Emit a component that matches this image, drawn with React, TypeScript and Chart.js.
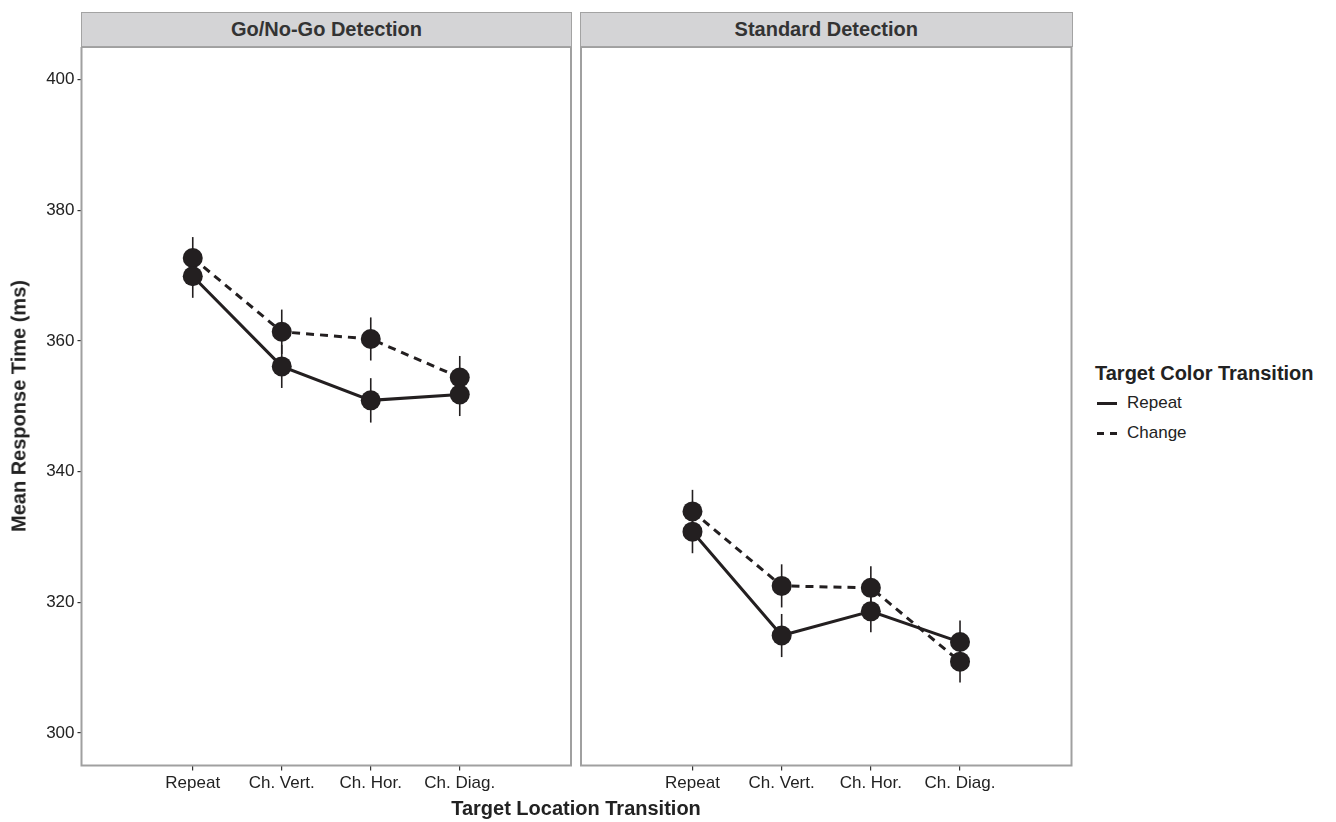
import React, { useEffect, useRef } from "react";
import { Chart, registerables } from "chart.js";

Chart.register(...registerables);

const FONT = '"Liberation Sans", Arial, Helvetica, sans-serif';
const INK = "#231f20";

const categories = ["Repeat", "Ch. Vert.", "Ch. Hor.", "Ch. Diag."];
const yTicks = [300, 320, 340, 360, 380, 400];

// Go/No-Go Detection panel
const goRepeat = [369.9, 356.1, 350.9, 351.8];
const goRepeatErr = [3.3, 3.3, 3.4, 3.3];
const goChange = [372.7, 361.4, 360.3, 354.4];
const goChangeErr = [3.2, 3.4, 3.3, 3.3];

// Standard Detection panel
const stdRepeat = [330.8, 314.9, 318.6, 313.9];
const stdRepeatErr = [3.3, 3.3, 3.2, 3.3];
const stdChange = [333.9, 322.5, 322.2, 310.9];
const stdChangeErr = [3.3, 3.3, 3.3, 3.2];

const errorBarPlugin = {
  id: "errorBars",
  beforeDatasetsDraw(chart: any) {
    const ctx = chart.ctx;
    const xs = chart.scales.x;
    const ys = chart.scales.y;
    ctx.save();
    ctx.strokeStyle = INK;
    ctx.lineWidth = 1.6;
    chart.data.datasets.forEach((ds: any) => {
      ds.data.forEach((p: any, i: number) => {
        const e = ds.errors[i];
        const px = xs.getPixelForValue(p.x);
        ctx.beginPath();
        ctx.moveTo(px, ys.getPixelForValue(p.y - e));
        ctx.lineTo(px, ys.getPixelForValue(p.y + e));
        ctx.stroke();
      });
    });
    ctx.restore();
  },
};

const borderPlugin = {
  id: "panelBorder",
  afterDatasetsDraw(chart: any) {
    const { left, top, right, bottom } = chart.chartArea;
    const ctx = chart.ctx;
    ctx.save();
    ctx.strokeStyle = "#a0a0a0";
    ctx.lineWidth = 2;
    ctx.strokeRect(left, top, right - left, bottom - top);
    ctx.restore();
  },
};

function makeDatasets(rep: number[], repErr: number[], chg: number[], chgErr: number[]) {
  const toPts = (arr: number[]) => arr.map((v, i) => ({ x: i + 1, y: v }));
  const base = {
    borderColor: INK,
    backgroundColor: INK,
    pointBackgroundColor: INK,
    pointBorderWidth: 0,
    pointRadius: 10,
    borderWidth: 3,
    tension: 0,
    clip: false as any,
  };
  return [
    { ...base, label: "Repeat", data: toPts(rep), errors: repErr },
    { ...base, label: "Change", data: toPts(chg), errors: chgErr, borderDash: [8, 6] },
  ];
}

const zeroPad = (s: any) => {
  s.paddingLeft = 0;
  s.paddingRight = 0;
  s.paddingTop = 0;
  s.paddingBottom = 0;
};

function Panel(props: {
  rep: number[];
  repErr: number[];
  chg: number[];
  chgErr: number[];
  showY: boolean;
  left: number;
  width: number;
}) {
  const ref = useRef<HTMLCanvasElement>(null);
  useEffect(() => {
    if (!ref.current) return;
    const chart = new Chart(ref.current, {
      type: "line",
      data: {
        datasets: makeDatasets(props.rep, props.repErr, props.chg, props.chgErr) as any,
      },
      options: {
        responsive: false,
        animation: false,
        devicePixelRatio: 1,
        layout: {
          autoPadding: false,
          padding: { left: props.showY ? 0 : 6, right: props.showY ? 2 : 3.5, top: 0, bottom: 0 },
        },
        plugins: { legend: { display: false }, tooltip: { enabled: false } },
        scales: {
          x: {
            type: "linear",
            min: -0.25,
            max: 5.25,
            afterBuildTicks: (s: any) => {
              s.ticks = categories.map((_, i) => ({ value: i + 1 }));
            },
            afterFit: (s: any) => {
              s.height = 56.5;
              zeroPad(s);
            },
            ticks: {
              callback: (v: any) => categories[Number(v) - 1] ?? "",
              font: { size: 17, family: FONT },
              color: "#222",
              padding: 3,
              maxRotation: 0,
              autoSkip: false,
            },
            grid: {
              display: true,
              drawOnChartArea: false,
              drawTicks: true,
              tickLength: 5,
              color: "#333",
              lineWidth: 1.2,
            },
            border: { display: false },
          },
          y: {
            type: "linear",
            display: props.showY,
            min: 295,
            max: 405,
            afterBuildTicks: (s: any) => {
              s.ticks = yTicks.map((v) => ({ value: v }));
            },
            afterFit: (s: any) => {
              s.width = props.showY ? 81.5 : 0;
              zeroPad(s);
            },
            ticks: {
              font: { size: 17, family: FONT },
              color: "#222",
              padding: 3,
            },
            grid: {
              display: true,
              drawOnChartArea: false,
              drawTicks: true,
              tickLength: 4,
              color: "#333",
              lineWidth: 1.2,
            },
            border: { display: false },
          },
        },
      } as any,
      plugins: [errorBarPlugin, borderPlugin],
    });
    return () => chart.destroy();
  }, []);
  return (
    <canvas
      ref={ref}
      width={props.width}
      height={775}
      style={{ position: "absolute", left: props.left, top: 47, width: props.width, height: 775 }}
    />
  );
}

const stripStyle = (left: number, width: number): React.CSSProperties => ({
  position: "absolute",
  left,
  top: 12,
  width,
  height: 35,
  boxSizing: "border-box",
  background: "#d4d4d6",
  border: "1.5px solid #a3a3a3",
  color: "#333",
  fontFamily: FONT,
  fontWeight: "bold",
  fontSize: 20,
  lineHeight: "32px",
  textAlign: "center",
});

export default function App() {
  return (
    <div
      style={{
        position: "absolute",
        left: 0,
        top: 0,
        width: 1336,
        height: 822,
        background: "#fff",
        fontFamily: FONT,
        overflow: "hidden",
      }}
    >
      <div style={stripStyle(81, 491)}>Go/No-Go Detection</div>
      <div style={stripStyle(580, 492.5)}>Standard Detection</div>
      <Panel rep={goRepeat} repErr={goRepeatErr} chg={goChange} chgErr={goChangeErr} showY={true} left={0} width={573} />
      <Panel rep={stdRepeat} repErr={stdRepeatErr} chg={stdChange} chgErr={stdChangeErr} showY={false} left={575} width={500} />
      <div
        style={{
          position: "absolute",
          left: 19,
          top: 406,
          transform: "translate(-50%, -50%) rotate(-90deg)",
          whiteSpace: "nowrap",
          fontWeight: "bold",
          fontSize: 20,
          color: "#222",
        }}
      >
        Mean Response Time (ms)
      </div>
      <div
        style={{
          position: "absolute",
          left: 0,
          width: 1152,
          top: 796,
          textAlign: "center",
          fontWeight: "bold",
          fontSize: 20,
          lineHeight: "24px",
          color: "#222",
        }}
      >
        Target Location Transition
      </div>
      <div style={{ position: "absolute", left: 1095, top: 360, color: "#222" }}>
        <div style={{ fontWeight: "bold", fontSize: 20, lineHeight: "26px", whiteSpace: "nowrap" }}>
          Target Color Transition
        </div>
        <div style={{ position: "relative", height: 30, fontSize: 17 }}>
          <div style={{ position: "absolute", left: 2, top: 16, width: 20, height: 0, borderTop: `3px solid ${INK}` }} />
          <span style={{ position: "absolute", left: 32, top: 7, lineHeight: "20px" }}>Repeat</span>
        </div>
        <div style={{ position: "relative", height: 30, fontSize: 17 }}>
          <div style={{ position: "absolute", left: 2, top: 16, width: 7, height: 0, borderTop: `3px solid ${INK}` }} />
          <div style={{ position: "absolute", left: 15, top: 16, width: 7, height: 0, borderTop: `3px solid ${INK}` }} />
          <span style={{ position: "absolute", left: 32, top: 7, lineHeight: "20px" }}>Change</span>
        </div>
      </div>
    </div>
  );
}
